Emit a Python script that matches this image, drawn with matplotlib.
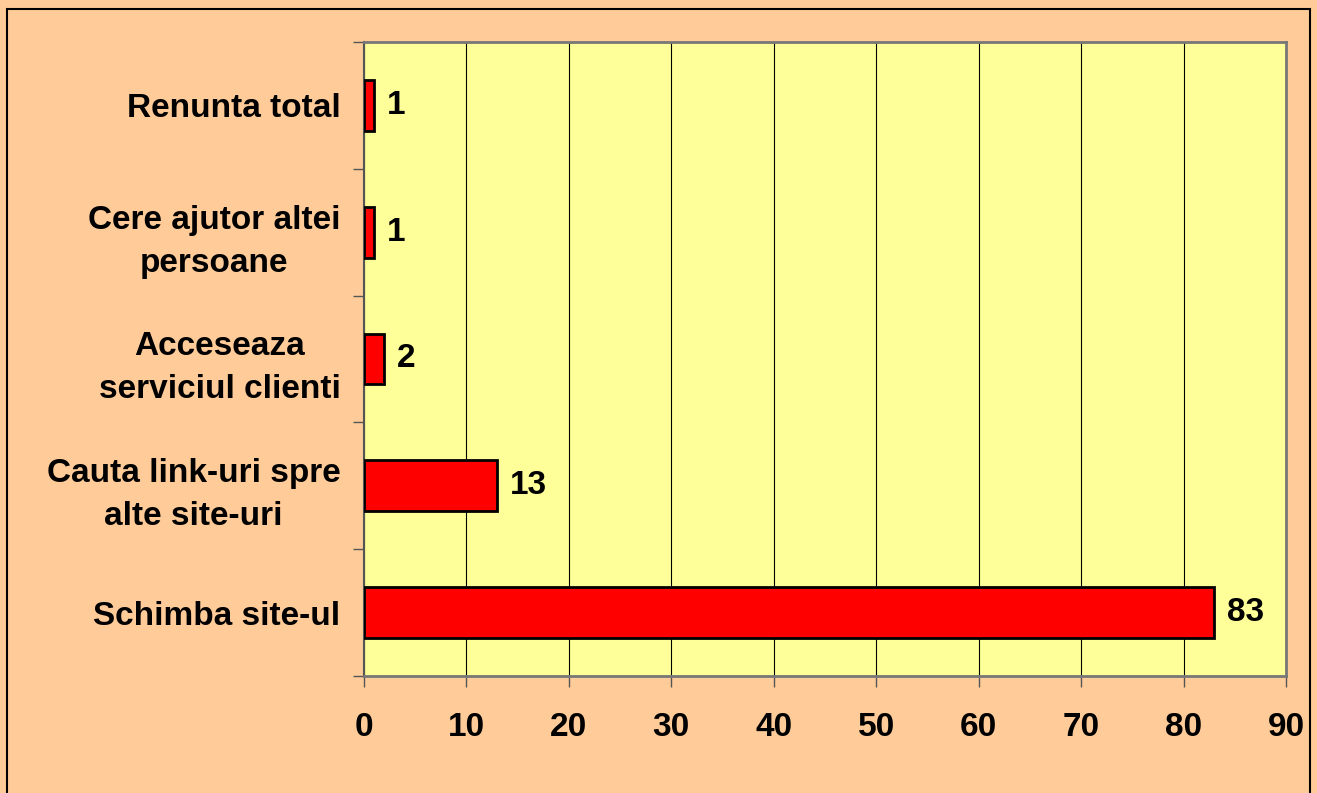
import matplotlib.pyplot as plt
from matplotlib.patches import Rectangle

# date
categorii = ["Schimba site-ul", "Cauta link-uri spre\nalte site-uri",
             "Acceseaza\nserviciul clienti", "Cere ajutor altei\npersoane",
             "Renunta total"]
valori = [83, 13, 2, 1, 1]
x_ticks = [0, 10, 20, 30, 40, 50, 60, 70, 80, 90]

plt.rcParams['font.family'] = ['Liberation Sans', 'DejaVu Sans']
plt.rcParams['font.weight'] = 'bold'

fig = plt.figure(figsize=(13.17, 7.93), dpi=100, facecolor="#FFCC99")
# chenar exterior
fig.patches.append(Rectangle((7/1317, -0.01), 1303/1317, 1 - 9/793 + 0.01,
                             transform=fig.transFigure, fill=False,
                             edgecolor="black", linewidth=1.5))

ax = fig.add_axes([364/1317, 1 - 676/793, (1286-364)/1317, (676-42)/793])
ax.set_facecolor("#FFFF99")

pos = range(len(categorii))
bare = ax.barh(pos, valori, height=0.4, color="#FF0000",
               edgecolor="black", linewidth=2, zorder=3)

for p, v in zip(pos, valori):
    ax.text(v + 1.2, p, str(v), va="center", ha="left",
            fontsize=24, fontweight="bold", zorder=4)

ax.set_xlim(0, 90)
ax.set_ylim(-0.5, 4.5)
ax.set_xticks(x_ticks)
ax.set_xticklabels([str(t) for t in x_ticks], fontsize=24, fontweight="bold")
ax.xaxis.grid(True, color="black", linewidth=0.8)
ax.set_axisbelow(True)

ax.set_yticks([p + 0.5 for p in range(-1, len(categorii))])
ax.set_yticklabels([])
ax.set_yticks(list(pos), minor=True)
ax.set_yticklabels(categorii, minor=True, fontsize=24, fontweight="bold",
                   ha="right", multialignment="center", linespacing=1.5)
ax.tick_params(axis="y", which="minor", length=0, pad=17)
ax.tick_params(axis="y", which="major", length=8, width=1, color="#555555")
ax.tick_params(axis="x", length=8, width=1, pad=18, color="#555555")

for s in ["top", "right", "bottom"]:
    ax.spines[s].set_color("#777777")
    ax.spines[s].set_linewidth(2)
ax.spines["left"].set_color("#555555")
ax.spines["left"].set_linewidth(1.5)

plt.savefig("out.png", dpi=100, facecolor=fig.get_facecolor())
